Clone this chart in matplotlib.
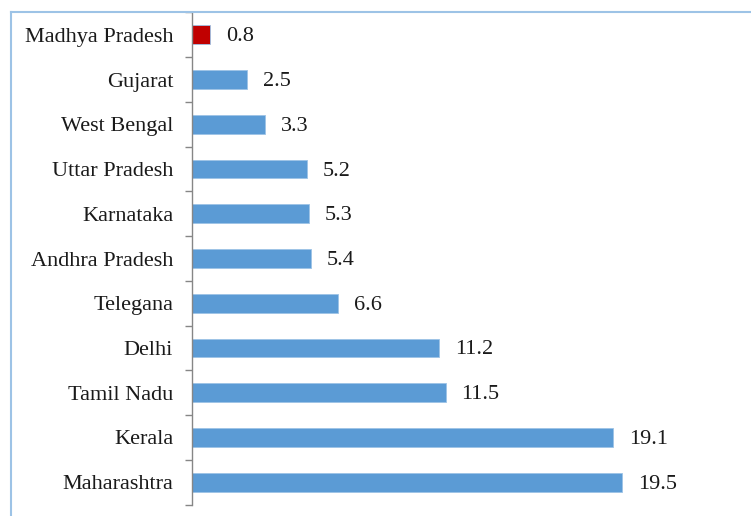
import matplotlib.pyplot as plt
from matplotlib.lines import Line2D
import numpy as np

states = ['Madhya Pradesh', 'Gujarat', 'West Bengal', 'Uttar Pradesh', 'Karnataka',
          'Andhra Pradesh', 'Telegana', 'Delhi', 'Tamil Nadu', 'Kerala', 'Maharashtra']
values = [0.8, 2.5, 3.3, 5.2, 5.3, 5.4, 6.6, 11.2, 11.5, 19.1, 19.5]
colors = ['#C00000'] + ['#5B9BD5'] * 10

plt.rcParams['font.family'] = ['Liberation Serif', 'DejaVu Serif']

W, H = 751, 516
fig = plt.figure(figsize=(W / 100, H / 100), dpi=100)
ax = fig.add_axes([192 / W, 1 - 504.5 / H, (750 - 192) / W, (504.5 - 12.5) / H])

y = np.arange(len(states))
ax.barh(y, values, height=0.42, color=colors, edgecolor='#9DC3E6', linewidth=0.6)
ax.set_ylim(len(states) - 0.5, -0.5)
ax.set_xlim(0, (750 - 192) / 22.05)

for yi, v in zip(y, values):
    ax.annotate(f'{v:.1f}', (v, yi), xytext=(16, -2), textcoords='offset pixels',
                ha='left', va='center', fontsize=16, color='#1a1a1a')

ax.set_yticks(y)
ax.set_yticklabels(states, fontsize=16, color='#1a1a1a')
ax.set_yticks(np.arange(len(states) + 1) - 0.5, minor=True)
ax.tick_params(axis='y', which='major', length=0, pad=13.5)
ax.tick_params(axis='y', which='minor', length=5, color='#868686', width=1)
ax.set_xticks([])
for s in ['top', 'right', 'bottom']:
    ax.spines[s].set_visible(False)
ax.spines['left'].set_color('#868686')
ax.spines['left'].set_linewidth(1)

# chart border
border = '#9DC3E6'
fig.add_artist(Line2D([11 / W, 1], [1 - 12 / H, 1 - 12 / H], color=border, lw=1.5))
fig.add_artist(Line2D([11 / W, 11 / W], [0, 1 - 12 / H], color=border, lw=1.5))

fig.savefig('out.png', dpi=100)
